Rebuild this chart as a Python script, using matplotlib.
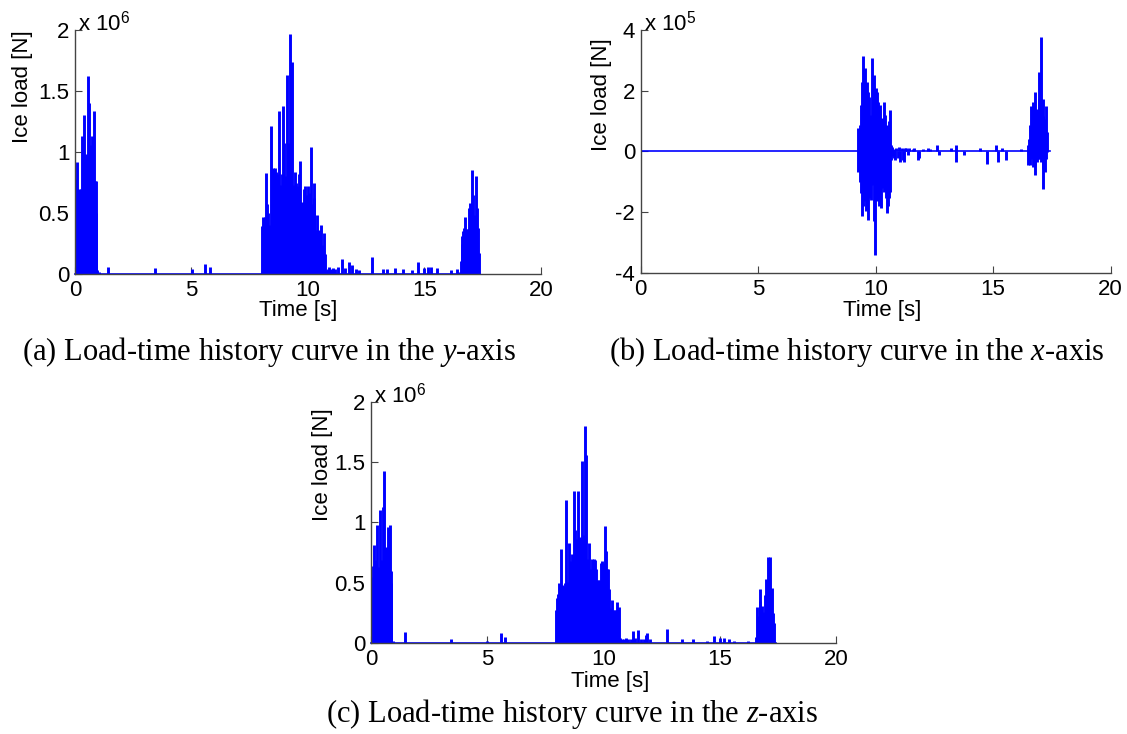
# ice load time histories, three components
import matplotlib
matplotlib.use('Agg')
import matplotlib.pyplot as plt

plt.rcParams['font.family'] = ['Liberation Sans', 'DejaVu Sans']
plt.rcParams['mathtext.fontset'] = 'custom'
plt.rcParams['mathtext.rm'] = 'Liberation Sans'
plt.rcParams['mathtext.it'] = 'Liberation Serif:italic'

# record length [s]
record_t = [0.0, 17.4]

# (a) y-axis load, values in 1e6 N (peak per sample)
a_t = [0.02, 0.04, 0.07, 0.10, 0.13, 0.17, 0.21, 0.26, 0.30, 0.33, 0.36, 0.39, 0.41,
       0.44, 0.47, 0.50, 0.53, 0.57, 0.61, 0.64, 0.67, 0.70, 0.73, 0.76, 0.78, 0.81,
       0.83, 0.85, 0.87, 0.89, 0.91, 0.96, 1.03,
       1.44, 3.43, 5.02, 5.58, 5.80,
       8.03, 8.09, 8.14, 8.20, 8.24, 8.29, 8.34, 8.40, 8.46, 8.52, 8.57, 8.63, 8.69,
       8.74, 8.79, 8.83, 8.87, 8.93, 8.99, 9.04, 9.10, 9.16, 9.20, 9.24, 9.30, 9.36,
       9.41, 9.46, 9.50, 9.56, 9.61, 9.67, 9.73, 9.77, 9.81, 9.87, 9.91, 9.97, 10.01,
       10.07, 10.13, 10.18, 10.24, 10.28, 10.34, 10.40, 10.46, 10.51, 10.57, 10.63,
       10.68, 10.72,
       10.78, 10.85, 10.92, 11.00, 11.08, 11.17, 11.30, 11.48, 11.60, 11.78, 11.90,
       12.05, 12.20, 12.75, 13.20, 13.40, 13.75, 14.10, 14.45, 14.72, 15.00, 15.15,
       15.30, 15.55, 16.15, 16.38,
       16.47, 16.55, 16.59, 16.63, 16.67, 16.71, 16.76, 16.81, 16.86, 16.92, 16.96,
       17.02, 17.06, 17.10, 17.16, 17.20, 17.24, 17.28, 17.33]
a_v = [0.45, 0.78, 0.55, 0.92, 0.60, 0.70, 0.50, 0.70, 1.13, 0.40, 0.68, 0.55, 1.30,
       0.62, 0.98, 0.60, 0.95, 1.62, 1.40, 0.70, 1.06, 0.66, 1.13, 0.72, 0.82, 0.60,
       1.34, 0.70, 0.76, 0.50, 0.76, 0.03, 0.02,
       0.055, 0.05, 0.04, 0.08, 0.06,
       0.39, 0.47, 0.47, 0.83, 0.57, 0.50, 0.40, 1.21, 0.80, 0.87, 0.87, 0.84, 0.82,
       1.34, 0.73, 0.70, 0.82, 1.38, 1.07, 0.80, 1.63, 1.07, 0.99, 1.97, 1.74, 0.69,
       0.73, 0.84, 0.75, 0.72, 0.82, 0.93, 0.59, 0.40, 0.70, 0.72, 0.65, 0.52, 0.72,
       0.66, 1.04, 0.57, 0.75, 0.62, 0.36, 0.48, 0.36, 0.24, 0.40, 0.24, 0.34,
       0.16, 0.03,
       0.04, 0.055, 0.04, 0.05, 0.04, 0.06, 0.12, 0.05, 0.10, 0.07, 0.04,
       0.03, 0.14, 0.04, 0.04, 0.05, 0.04, 0.03, 0.10, 0.05, 0.06,
       0.06, 0.05, 0.03, 0.04,
       0.02, 0.11, 0.31, 0.25, 0.35, 0.38, 0.47, 0.37, 0.37, 0.54, 0.58,
       0.50, 0.85, 0.65, 0.48, 0.80, 0.54, 0.38, 0.17]

# (b) x-axis load, values in 1e5 N (max / min per sample)
b_t = [9.26, 9.32, 9.38, 9.42, 9.46, 9.50, 9.55, 9.59, 9.63, 9.67, 9.73, 9.77, 9.82,
       9.86, 9.91, 9.96, 10.00, 10.04, 10.08, 10.14, 10.20, 10.24, 10.28, 10.34,
       10.38, 10.42, 10.48, 10.52, 10.57, 10.61, 10.65,
       10.71, 10.77, 10.82, 10.88, 10.94, 10.99, 11.05, 11.11, 11.15, 11.19, 11.25,
       11.30, 11.36, 11.42, 11.59, 11.65, 11.79, 11.84, 12.00, 12.21, 12.30, 12.61,
       12.69, 13.20, 13.41, 13.74, 14.43, 14.74, 15.10, 15.21, 15.36, 15.56, 16.18,
       16.48, 16.53, 16.58, 16.62, 16.66, 16.70, 16.76, 16.80, 16.85, 16.89, 16.93,
       16.97, 17.02, 17.06, 17.10, 17.14, 17.19, 17.24, 17.29]
b_hi = [0.77, 0.88, 1.54, 2.30, 3.13, 2.19, 2.74, 1.54, 2.30, 1.97, 1.81, 1.10, 1.21,
        3.07, 2.52, 0.88, 2.08, 1.97, 1.64, 0.99, 1.54, 0.77, 1.10, 1.64, 1.21, 0.55,
        0.88, 0.44, 0.99, 1.37, 0.22,
        0.16, 0.09, 0.0, 0.13, 0.0, 0.15, 0.0, 0.13, 0.0, 0.0, 0.13,
        0.11, 0.0, 0.13, 0.09, 0.11, 0.0, 0.0, 0.08, 0.11, 0.09, 0.22,
        0.0, 0.13, 0.22, 0.0, 0.13, 0.0, 0.22, 0.0, 0.10, 0.0, 0.08,
        0.20, 0.42, 0.86, 1.51, 0.64, 1.62, 0.86, 1.95, 1.40, 1.18, 1.73,
        2.61, 3.76, 1.51, 1.73, 1.18, 1.07, 1.51, 0.64]
b_lo = [-0.66, -0.99, -1.37, -2.14, -1.81, -1.32, -1.64, -1.97, -1.54, -2.25, -1.21,
        -1.54, -1.59, -1.10, -2.30, -3.40, -1.32, -1.64, -1.43, -1.81, -1.54, -1.86,
        -1.21, -1.32, -0.99, -1.54, -2.03, -1.81, -1.54, -1.32, -0.27,
        -0.16, -0.22, -0.27, 0.0, -0.22, 0.0, -0.33, 0.0, -0.27, -0.33, 0.0,
        0.0, -0.11, 0.0, 0.0, 0.0, -0.27, -0.22, 0.0, 0.0, 0.0, 0.0,
        -0.11, 0.0, -0.33, -0.11, 0.0, -0.42, 0.0, -0.36, 0.0, -0.27, 0.0,
        -0.46, -0.24, -0.46, -0.24, -0.19, -0.52, -0.79, -0.46, -0.35, -0.24, -0.02,
        -0.24, -0.35, -0.30, -0.57, -1.23, -0.68, -0.24, -0.02]

# (c) z-axis load, values in 1e6 N
c_t = [0.03, 0.06, 0.08, 0.11, 0.14, 0.17, 0.20, 0.23, 0.26, 0.29, 0.32, 0.35, 0.38,
       0.42, 0.45, 0.48, 0.51, 0.54, 0.57, 0.60, 0.63, 0.66, 0.69, 0.72, 0.75, 0.79,
       0.82, 0.85, 0.88, 0.94,
       1.45, 3.45, 4.98, 5.60, 5.77,
       7.96, 8.00, 8.06, 8.10, 8.16, 8.20, 8.26, 8.32, 8.36, 8.40, 8.45, 8.50, 8.55,
       8.59, 8.63, 8.67, 8.72, 8.76, 8.80, 8.85, 8.89, 8.93, 8.98, 9.02, 9.06, 9.10,
       9.15, 9.19, 9.23, 9.28, 9.32, 9.36, 9.41, 9.45, 9.49, 9.53, 9.58, 9.62, 9.66,
       9.71, 9.75, 9.79, 9.83, 9.88, 9.92, 9.96, 10.01, 10.05, 10.09, 10.14, 10.18,
       10.22, 10.27, 10.31, 10.35, 10.40, 10.44, 10.48, 10.52, 10.57, 10.61, 10.65,
       10.70,
       10.78, 10.88, 10.97, 11.07, 11.17, 11.28, 11.37, 11.50, 11.60, 11.74, 11.83,
       11.89, 12.00, 12.72, 13.38, 13.85, 14.46, 14.75, 15.03, 15.18, 15.38, 15.62,
       16.23,
       16.56, 16.60, 16.64, 16.68, 16.72, 16.75, 16.79, 16.83, 16.87, 16.91, 16.95,
       16.98, 17.02, 17.06, 17.09, 17.12, 17.15, 17.18, 17.22, 17.26, 17.30, 17.34]
c_v = [0.41, 0.55, 0.64, 0.45, 0.81, 0.60, 0.69, 0.50, 0.98, 0.55, 0.63, 0.60, 1.10,
       0.45, 0.69, 0.60, 1.13, 0.62, 1.43, 0.70, 0.80, 0.55, 0.71, 0.58, 0.96, 0.60,
       0.98, 0.50, 0.60, 0.02,
       0.09, 0.03, 0.02, 0.08, 0.05,
       0.27, 0.37, 0.41, 0.50, 0.78, 0.48, 0.47, 0.36, 0.50, 1.19, 0.51, 0.83, 0.68,
       0.51, 0.74, 0.59, 1.26, 0.94, 0.86, 0.83, 1.26, 0.81, 0.88, 0.68, 1.51, 0.90,
       0.80, 1.80, 1.56, 0.69, 0.70, 0.83, 0.61, 0.59, 0.70, 0.44, 0.70, 0.69, 0.61,
       0.43, 0.52, 0.52, 0.47, 0.66, 0.68, 0.66, 0.61, 0.97, 0.76, 0.61, 0.61,
       0.45, 0.27, 0.29, 0.36, 0.22, 0.27, 0.27, 0.26, 0.34, 0.25, 0.30,
       0.04,
       0.03, 0.03, 0.04, 0.03, 0.03, 0.10, 0.04, 0.11, 0.03, 0.03, 0.07,
       0.08, 0.03, 0.12, 0.03, 0.03, 0.02, 0.06, 0.04, 0.04, 0.03, 0.02,
       0.015,
       0.05, 0.30, 0.20, 0.22, 0.35, 0.45, 0.28, 0.31, 0.25, 0.26, 0.40,
       0.53, 0.45, 0.71, 0.40, 0.52, 0.45, 0.71, 0.30, 0.46, 0.25, 0.17]

x_ticks = [0, 5, 10, 15, 20]
ac_yticks = [0, 0.5, 1, 1.5, 2]
ac_yticklabels = ['0', '0.5', '1', '1.5', '2']
b_yticks = [-4, -2, 0, 2, 4]
b_yticklabels = ['-4', '-2', '0', '2', '4']

blue = '#0000ff'
gray = '#444444'
fs = 16

fig = plt.figure(figsize=(11.27, 7.34), dpi=100)

def setup(ax, yticks, yticklabels, ylim, exp, xlab_pos, ylab_pos):
  ax.set_xlim(0, 20)
  ax.set_ylim(*ylim)
  ax.set_xticks(x_ticks)
  ax.set_xticklabels([str(v) for v in x_ticks])
  ax.set_yticks(yticks)
  ax.set_yticklabels(yticklabels)
  for s in ['top', 'right']:
    ax.spines[s].set_visible(False)
  for s in ['left', 'bottom']:
    ax.spines[s].set_color(gray)
    ax.spines[s].set_linewidth(1.0)
  ax.tick_params(direction='in', length=5, color=gray, labelsize=fs, pad=4)
  ax.set_xlabel('Time [s]', fontsize=fs)
  ax.set_ylabel('Ice load [N]', fontsize=fs)
  ax.xaxis.set_label_coords(*xlab_pos)
  ax.yaxis.set_label_coords(*ylab_pos)
  ax.xaxis.label.set_va('center')
  ax.yaxis.label.set_va('center')
  ax.text(0.006, 1.0, 'x 10$^{\\mathrm{%d}}$' % exp, transform=ax.transAxes,
          fontsize=fs, ha='left', va='baseline')

# (a)
ax1 = fig.add_axes([0.0665, 0.6267, 0.4135, 0.3324])
ax1.plot(record_t, [0, 0], color=blue, lw=1.2, clip_on=False)
ax1.vlines(a_t, 0, a_v, color=blue, lw=2.1)
setup(ax1, ac_yticks, ac_yticklabels, (0, 2), 6, (0.48, -0.15), (-0.112, 0.77))

# (b)
ax2 = fig.add_axes([0.5685, 0.6281, 0.417, 0.331])
ax2.plot(record_t, [0, 0], color=blue, lw=1.2)
ax2.vlines(b_t, b_lo, b_hi, color=blue, lw=2.1)
setup(ax2, b_yticks, b_yticklabels, (-4, 4), 5, (0.513, -0.155), (-0.083, 0.733))

# (c)
ax3 = fig.add_axes([0.3292, 0.124, 0.4126, 0.3283])
ax3.plot(record_t, [0, 0], color=blue, lw=1.2, clip_on=False)
ax3.vlines(c_t, 0, c_v, color=blue, lw=2.1)
setup(ax3, ac_yticks, ac_yticklabels, (0, 2), 6, (0.514, -0.158), (-0.105, 0.739))

# captions
cap = dict(family=['Liberation Serif', 'DejaVu Serif'], fontsize=22, ha='center', va='center')
fig.text(269 / 1127, 1 - 352 / 734, '(a) Load-time history curve in the $\\mathit{y}$-axis', **cap)
fig.text(857 / 1127, 1 - 352 / 734, '(b) Load-time history curve in the $\\mathit{x}$-axis', **cap)
fig.text(572 / 1127, 1 - 714 / 734, '(c) Load-time history curve in the $\\mathit{z}$-axis', **cap)

fig.savefig('out.png', dpi=100)
